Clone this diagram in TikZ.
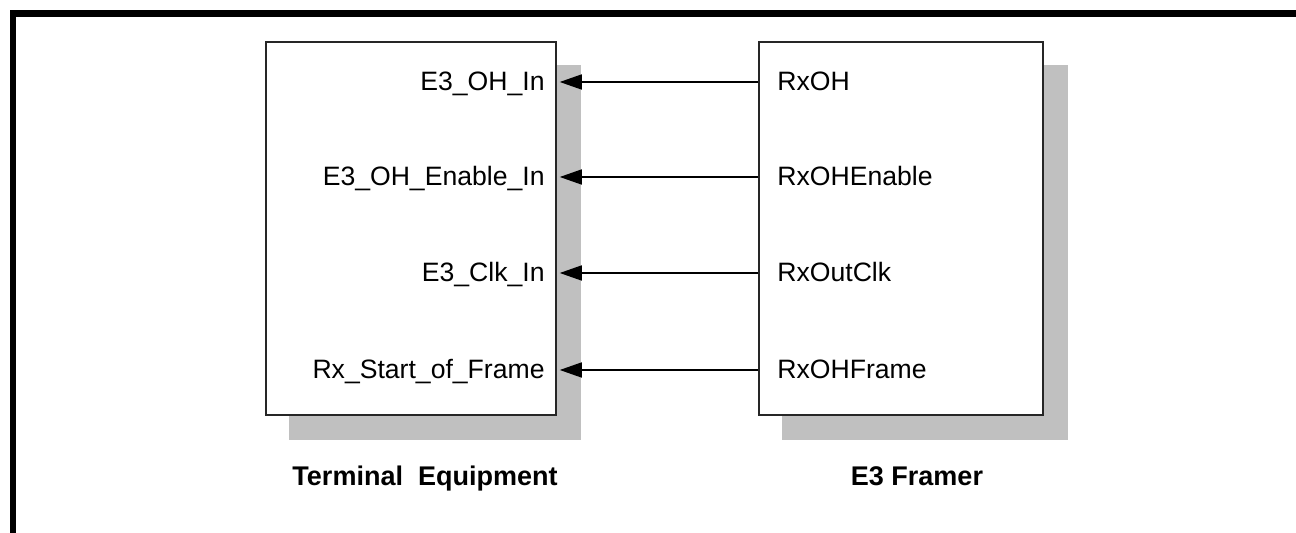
\documentclass[tikz,border=0pt]{standalone}
\usepackage{fontspec}
\setmainfont{Liberation Sans}
\usetikzlibrary{arrows.meta}
\definecolor{shadowgray}{HTML}{C0C0C0}
\begin{document}
\begin{tikzpicture}[x=0.5pt,y=-0.5pt,
  box/.style={draw=black!85, line width=0.75pt, fill=white, minimum height=186.5pt, inner sep=0pt},
  lbl/.style={inner sep=0pt, font=\fontsize{13.3}{16}\selectfont},
  title/.style={inner sep=0pt, font=\fontsize{13.5}{16}\selectfont\bfseries},
  sig/.style={line width=0.8pt, -{Triangle[length=11pt,width=7.5pt]}},
  border/.style={line width=3.3pt, line cap=butt}]
\useasboundingbox (0,0) rectangle (1296,533);
% page frame
\coordinate (fa) at (13,533);
\coordinate (fc) at (1296,13.5);
\draw[border] (fa) -- (13,10) (10,13.5) -- (fc);
% boxes with shadows
\node[box, minimum width=145pt] (te) at (411,228.5) {};
\node[box, minimum width=142pt] (fr) at (901,228.5) {};
\fill[shadowgray] ([shift={(24,24)}]te.south west) rectangle ([shift={(24,24)}]te.north east);
\fill[shadowgray] ([shift={(24,24)}]fr.south west) rectangle ([shift={(24,24)}]fr.north east);
\node[box, minimum width=145pt] at (te.center) {};
\node[box, minimum width=142pt] at (fr.center) {};
% signal rows
\coordinate (y1) at (0,82);
\coordinate (y2) at (0,177);
\coordinate (y3) at (0,273);
\coordinate (y4) at (0,370);
\node[lbl, anchor=base east] (l1) at (545,91) {E3\_OH\_In};
\node[lbl, anchor=base east] (l2) at (545,186) {E3\_OH\_Enable\_In};
\node[lbl, anchor=base east] (l3) at (545,282) {E3\_Clk\_In};
\node[lbl, anchor=base east] (l4) at (545,379) {Rx\_Start\_of\_Frame};
\node[lbl, anchor=base west] (r1) at (777,91) {RxOH};
\node[lbl, anchor=base west] (r2) at (777,186) {RxOHEnable};
\node[lbl, anchor=base west] (r3) at (777,282) {RxOutClk};
\node[lbl, anchor=base west] (r4) at (777,379) {RxOHFrame};
\draw[sig] (fr.west |- y1) -- ([xshift=1.5pt]te.east |- y1);
\draw[sig] (fr.west |- y2) -- ([xshift=1.5pt]te.east |- y2);
\draw[sig] (fr.west |- y3) -- ([xshift=1.5pt]te.east |- y3);
\draw[sig] (fr.west |- y4) -- ([xshift=1.5pt]te.east |- y4);
% titles
\node[title, anchor=base] (t1) at (425,486) {Terminal\ \ Equipment};
\node[title, anchor=base] (t2) at (917,486) {E3 Framer};
\end{tikzpicture}
\end{document}
